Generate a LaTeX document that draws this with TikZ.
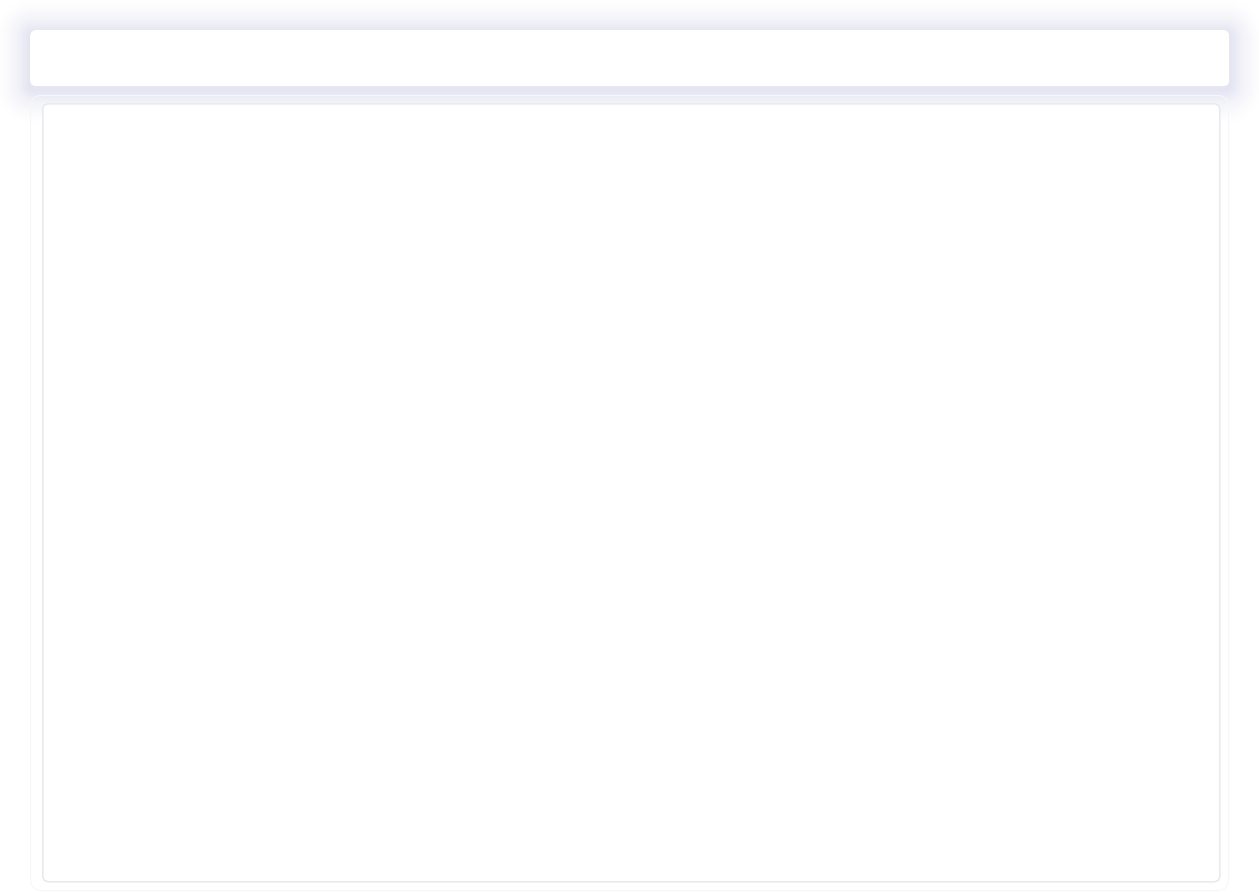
\documentclass[tikz,border=0pt]{standalone}
\begin{document}
\begin{tikzpicture}[x=1pt,y=-1pt]
\definecolor{shadowc}{RGB}{115,115,185}
\definecolor{panelb}{RGB}{234,234,238}
\definecolor{outerb}{RGB}{247,247,250}
\useasboundingbox (0,0) rectangle (1259,892);
\fill[white] (0,0) rectangle (1259,892);
% header shadow: opaque concentric layers, colour computed (no alpha quantisation)
\foreach \i in {36,35,...,1}{
  \pgfmathsetmacro{\pct}{20*(1-\i/37)^1.7}
  \fill[shadowc!\pct!white, rounded corners={4+\i}]
    (30-\i,33-\i) rectangle (1229+\i,89+\i);
}
\node[draw=none, fill=white, rounded corners=5pt, minimum width=1199pt, minimum height=56pt, inner sep=0pt, anchor=north west] (header) at (30,30) {};
% outer faint frame
\draw[outerb, line width=1pt, rounded corners=10pt] (30.5,95.5) rectangle (1228.5,890.5);
% panel
\node[draw=panelb, line width=1.5pt, fill=white, rounded corners=5pt, minimum width=1177pt, minimum height=778pt, inner sep=0pt, anchor=north west] (panel) at (42,103) {};
\end{tikzpicture}
\end{document}
